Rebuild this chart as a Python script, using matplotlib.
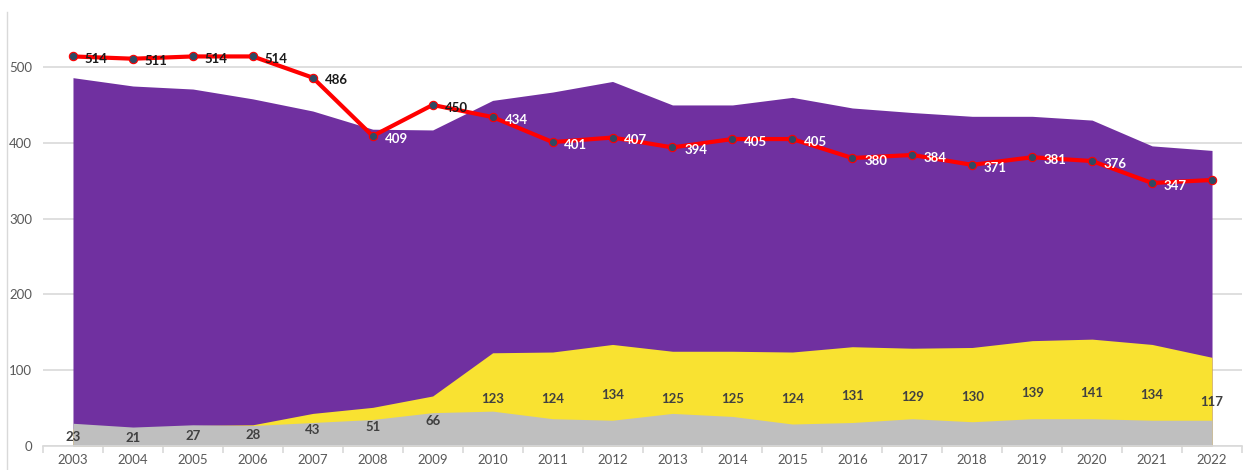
import matplotlib
matplotlib.use("Agg")
import matplotlib.pyplot as plt
from matplotlib.lines import Line2D
import numpy as np

plt.rcParams['font.family'] = ['Lato', 'DejaVu Sans']

years = [str(y) for y in range(2003, 2023)]
total_area = [486, 475, 471, 458, 442, 418, 417, 456, 467, 481, 450, 450, 460, 446, 440, 435, 435, 430, 396, 390]
yellow_vals = [23, 21, 27, 28, 43, 51, 66, 123, 124, 134, 125, 125, 124, 131, 129, 130, 139, 141, 134, 117]
grey_vals = [30, 25, 28, 27, 31, 35, 44, 46, 36, 34, 43, 39, 29, 31, 36, 32, 36, 36, 34, 34]
line_vals = [514, 511, 514, 514, 486, 409, 450, 434, 401, 407, 394, 405, 405, 380, 384, 371, 381, 376, 347, 351]
yticks = [0, 100, 200, 300, 400, 500]

purple = '#7030A0'
yellow = '#F9E231'
grey = '#BFBFBF'
red = '#FF0000'

fig = plt.figure(figsize=(12.48, 4.70), dpi=100)
ax = fig.add_axes([43/1248, 24/470, (1242-43)/1248, (446-14)/470])

x = np.arange(len(years))
ax.fill_between(x, 0, total_area, color=purple, linewidth=0, zorder=2)
ax.fill_between(x, 0, yellow_vals, color=yellow, linewidth=0, zorder=3)
ax.fill_between(x, 0, grey_vals, color=grey, linewidth=0, zorder=4)

ax.plot(x, line_vals, color=red, linewidth=3.0, zorder=6, solid_capstyle='round')
ax.plot(x, line_vals, linestyle='none', marker='o', markersize=6,
        markerfacecolor='#2F4A63', markeredgecolor=red, markeredgewidth=0.8, zorder=7)

for i, v in enumerate(line_vals):
    inside = v < total_area[i]
    col = 'white' if inside else '#1a1a1a'
    ax.annotate(str(v), (x[i], v), xytext=(8.5, -2), textcoords='offset points',
                ha='left', va='center', fontsize=9.5, fontweight='bold', color=col, zorder=8)

for i, v in enumerate(yellow_vals):
    ax.text(x[i], v / 2, str(v), ha='center', va='center', fontsize=9.5,
            fontweight='bold', color='#404040', zorder=8)

ax.set_xlim(-0.5, len(years) - 0.5)
ax.set_ylim(0, 570)
ax.set_yticks(yticks)
ax.set_yticklabels([str(t) for t in yticks])
ax.set_xticks(x)
ax.set_xticklabels(years)
ax.set_xticks(np.arange(-0.5, len(years), 1), minor=True)

ax.grid(axis='y', color='#D9D9D9', linewidth=1.2, zorder=1)
ax.set_axisbelow(True)
for s in ['top', 'right', 'left']:
    ax.spines[s].set_visible(False)
ax.spines['bottom'].set_color('#D9D9D9')
ax.spines['bottom'].set_linewidth(1.2)
ax.spines['bottom'].set_zorder(5)

ax.tick_params(axis='y', length=0, labelsize=9.5, labelcolor='#595959', pad=8)
ax.tick_params(axis='x', which='major', length=0, labelsize=9.5, labelcolor='#595959', pad=6)
ax.tick_params(axis='x', which='minor', length=5, color='#D9D9D9', width=1.2)

fig.add_artist(Line2D([7/1248, 7/1248], [0, 1 - 12/470], transform=fig.transFigure,
                      color='#D9D9D9', linewidth=1))

fig.savefig('out.png', dpi=100)
